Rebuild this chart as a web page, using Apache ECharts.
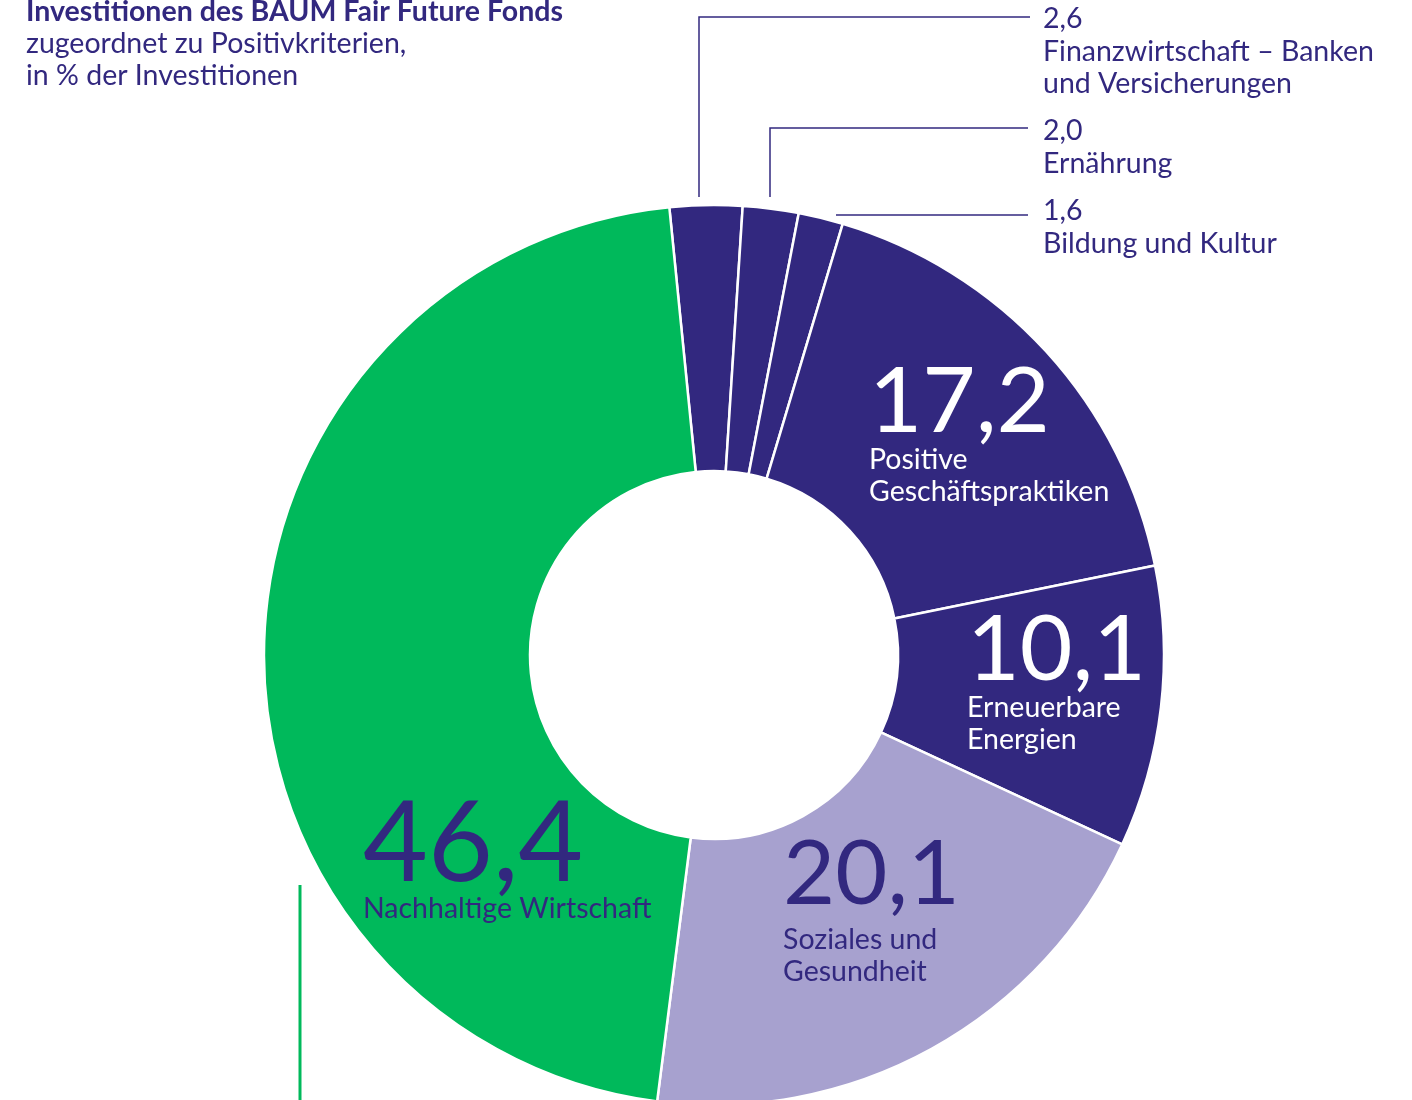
<!DOCTYPE html>
<html><head><meta charset="utf-8">
<script src="https://cdn.jsdelivr.net/npm/echarts@6/dist/echarts.min.js"></script>
<style>html,body{margin:0;padding:0;background:#fff}#c{width:1412px;height:1100px}</style>
</head><body><div id="c"></div>
<script>
// ---- data ----
const categories = ['Finanzwirtschaft – Banken\nund Versicherungen', 'Ernährung', 'Bildung und Kultur',
  'Positive\nGeschäftspraktiken', 'Erneuerbare\nEnergien', 'Soziales und\nGesundheit', 'Nachhaltige Wirtschaft'];
const values = [2.6, 2.0, 1.6, 17.2, 10.1, 20.1, 46.4];
const titleLines = ['Investitionen des BAUM Fair Future Fonds', 'zugeordnet zu Positivkriterien,', 'in % der Investitionen'];

// ---- styles / layout ----
const PURPLE = '#32287F', LILAC = '#A7A1CF', GREEN = '#00B95B';
const sliceColors = [PURPLE, PURPLE, PURPLE, PURPLE, PURPLE, LILAC, GREEN];
const FONT = 'Lato';
const TXT = 28.5;
const labelLayoutCfg = [
  { outside: true, x: 1043, y: 3, line: [[699, 197], [699, 17], [1030, 17]] },
  { outside: true, x: 1043, y: 115, line: [[770, 197], [770, 128], [1028, 128]] },
  { outside: true, x: 1043, y: 195, line: [[836, 215], [930, 215], [1028, 215]] },
  { x: 869, y: 360, numSize: 92, numLH: 84, color: '#fff' },
  { x: 967, y: 609, numSize: 91, numLH: 83, color: '#fff' },
  { x: 783, y: 826, numSize: 90, numLH: 98, color: PURPLE },
  { x: 363, y: 797, numSize: 112, numLH: 96, color: PURPLE }
];

const fmt = v => v.toFixed(1).replace('.', ',');

const data = values.map((v, i) => {
  const cfg = labelLayoutCfg[i];
  const nameLines = categories[i].split('\n');
  if (cfg.outside) {
    return {
      value: v, name: categories[i],
      itemStyle: { color: sliceColors[i] },
      label: {
        show: true, position: 'outside',
        formatter: ['{n|' + fmt(v) + '}'].concat(nameLines.map(l => '{n|' + l + '}')).join('\n'),
        rich: { n: { fontFamily: FONT, fontSize: TXT, lineHeight: 32.5, color: PURPLE, align: 'left' } }
      },
      labelLine: { show: true, lineStyle: { color: PURPLE, width: 1.5 } }
    };
  }
  return {
    value: v, name: categories[i],
    itemStyle: { color: sliceColors[i] },
    label: {
      show: true, position: 'inside',
      formatter: ['{num|' + fmt(v) + '}'].concat(nameLines.map(l => '{n|' + l + '}')).join('\n'),
      rich: {
        num: { fontFamily: FONT, fontSize: cfg.numSize, lineHeight: cfg.numLH, color: cfg.color, align: 'left' },
        n: { fontFamily: FONT, fontSize: TXT, lineHeight: 32, color: cfg.color, align: 'left' }
      }
    },
    labelLine: { show: false }
  };
});

const chart = echarts.init(document.getElementById('c'), null, { renderer: 'canvas' });
chart.setOption({
  backgroundColor: '#fff',
  animation: false,
  title: {
    text: '{b|' + titleLines[0] + '}\n{n|' + titleLines[1] + '}\n{n|' + titleLines[2] + '}',
    left: 26, top: -4, padding: 0,
    textStyle: {
      fontWeight: 'normal',
      rich: {
        b: { fontFamily: FONT, fontWeight: 'bold', fontSize: 28.5, lineHeight: 32, color: PURPLE },
        n: { fontFamily: FONT, fontWeight: 'normal', fontSize: 28.5, lineHeight: 32, color: PURPLE }
      }
    }
  },
  graphic: [{
    type: 'line', shape: { x1: 300, y1: 885, x2: 300, y2: 1100 },
    style: { stroke: GREEN, lineWidth: 3 }
  }],
  series: [{
    type: 'pie',
    center: [714, 655],
    radius: [184, 450],
    startAngle: 95.7,
    clockwise: true,
    avoidLabelOverlap: false,
    itemStyle: { borderColor: '#fff', borderWidth: 2.5 },
    emphasis: { disabled: true },
    data: data,
    labelLayout: function (params) {
      const cfg = labelLayoutCfg[params.dataIndex];
      const out = { x: cfg.x, y: cfg.y, align: 'left', verticalAlign: 'top' };
      if (cfg.line) out.labelLinePoints = cfg.line;
      return out;
    }
  }]
});
</script>
</body></html>
